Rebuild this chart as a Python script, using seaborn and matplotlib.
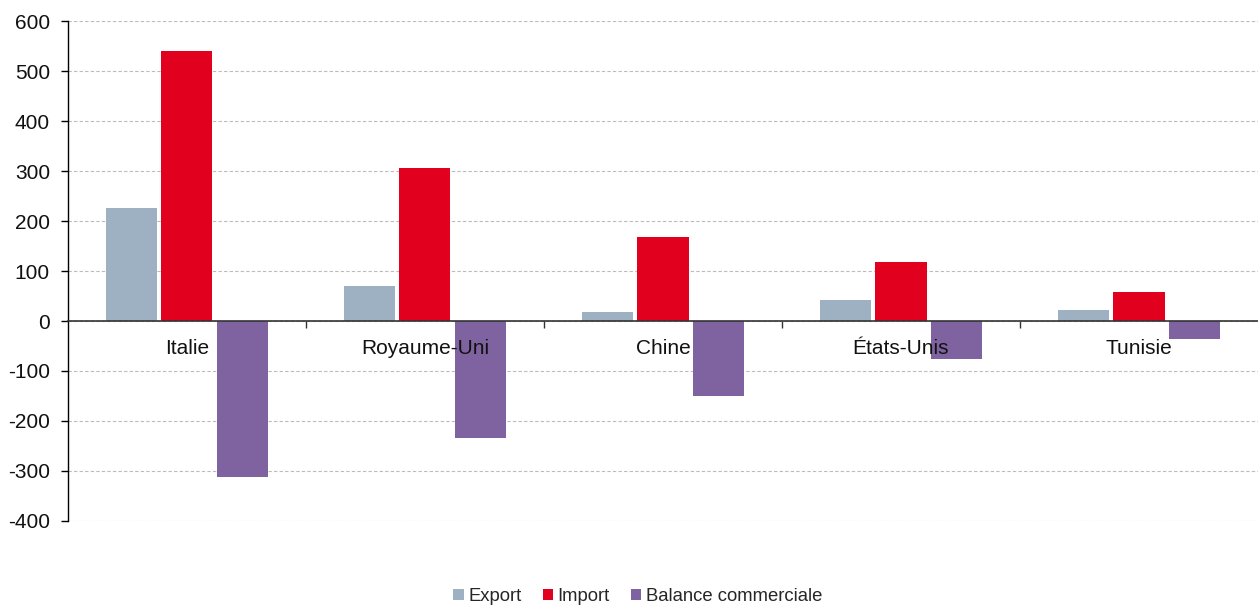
import matplotlib
matplotlib.use("Agg")
import matplotlib.pyplot as plt
import seaborn as sns
import pandas as pd
from matplotlib.ticker import FixedLocator

categories = ["Italie", "Royaume-Uni", "Chine", "États-Unis", "Tunisie"]
export_vals = [226, 70, 18, 42, 22]
import_vals = [540, 306, 168, 118, 58]
balance_vals = [-312, -234, -150, -76, -36]
series = ["Export", "Import", "Balance commerciale"]
colors = ["#9DB1C2", "#E2001F", "#7F63A1"]
yticks = [-400, -300, -200, -100, 0, 100, 200, 300, 400, 500, 600]

rows = []
for s, vals in zip(series, [export_vals, import_vals, balance_vals]):
    for c, v in zip(categories, vals):
        rows.append({"pays": c, "serie": s, "valeur": v})
df = pd.DataFrame(rows)

sns.set_theme(style="white")
plt.rcParams["font.family"] = ["Liberation Sans", "DejaVu Sans"]

fig = plt.figure(figsize=(12.58, 6.05), dpi=100)
ax = fig.add_axes([0.054, 0.139, 0.946, 0.826])

sns.barplot(data=df, x="pays", y="valeur", hue="serie", order=categories,
            hue_order=series, palette=colors, width=0.7, gap=0.08,
            saturation=1, ax=ax, errorbar=None, legend=True, linewidth=0)

ax.set_ylim(-400, 600)
ax.set_xlim(-0.5, len(categories) - 0.5)
ax.set_yticks(yticks)
ax.set_yticklabels([str(t) for t in yticks], fontsize=15, color="#111111")
ax.set_axisbelow(True)
ax.yaxis.grid(True, linestyle=(0, (3, 2)), color="#BBBBBB", linewidth=0.8)
ax.xaxis.grid(False)
ax.set_xlabel("")
ax.set_ylabel("")

for side in ["top", "right"]:
    ax.spines[side].set_visible(False)
ax.spines["left"].set_color("black")
ax.spines["left"].set_linewidth(1.0)
ax.spines["bottom"].set_position(("data", 0))
ax.spines["bottom"].set_color("#333333")
ax.spines["bottom"].set_linewidth(1.2)

ax.tick_params(axis="y", left=True, length=5, width=1, color="black", pad=8)
ax.set_xticks(range(len(categories)))
ax.set_xticklabels([])
ax.tick_params(axis="x", which="major", length=0)
ax.xaxis.set_minor_locator(FixedLocator([i + 0.5 for i in range(len(categories) - 1)]))
ax.tick_params(axis="x", which="minor", bottom=True, length=5, width=1, color="#333333")

for i, c in enumerate(categories):
    ax.annotate(c, xy=(i, 0), xytext=(0, -13), textcoords="offset points",
                ha="center", va="top", fontsize=15, color="#111111", zorder=10)

handles, labels = ax.get_legend_handles_labels()
ax.get_legend().remove()
fig.legend(handles, labels, loc="center", bbox_to_anchor=(0.507, 0.014), ncol=3,
           frameon=False, fontsize=13.3, handlelength=0.55, handleheight=0.55,
           handletextpad=0.25, columnspacing=1.15, borderpad=0)

fig.savefig("out.png", dpi=100)
